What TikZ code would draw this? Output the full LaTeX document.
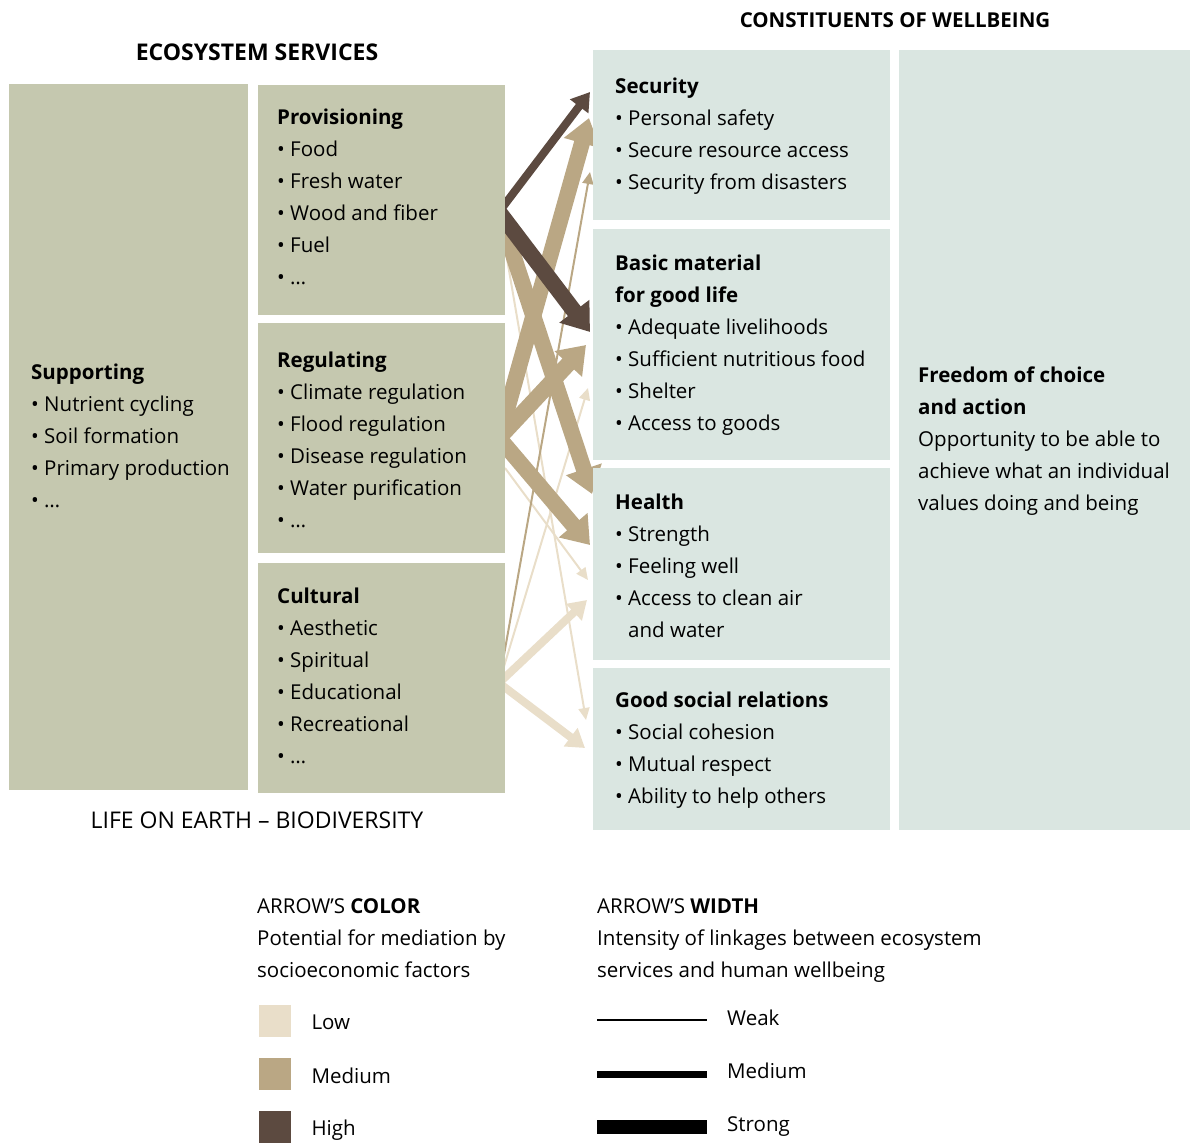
\documentclass[tikz,border=0pt]{standalone}
\usepackage{fontspec}
\setmainfont{Open Sans}
\usetikzlibrary{positioning,arrows.meta,calc}
\definecolor{servicecolor}{RGB}{197,200,175}
\definecolor{wellcolor}{RGB}{218,230,225}
\definecolor{lowcolor}{RGB}{233,222,201}
\definecolor{medcolor}{RGB}{186,167,132}
\definecolor{highcolor}{RGB}{92,74,64}
\pgfdeclarelayer{background}
\pgfsetlayers{background,main}

\begin{document}
\begin{tikzpicture}[
    x=1pt, y=-1pt,
    box/.style={rectangle, anchor=north west, inner sep=0pt, outer sep=0pt},
    service/.style={box, fill=servicecolor},
    wellbeing/.style={box, fill=wellcolor},
    boxtext/.style={anchor=north west, align=left, inner sep=0pt, font=\fontsize{20.5}{32}\selectfont},
    head/.style={inner sep=0pt, font=\fontsize{20.5}{24}\selectfont\bfseries},
    swatch/.style={rectangle, anchor=north west, inner sep=0pt, minimum size=32pt},
    keytext/.style={anchor=west, inner sep=0pt, font=\fontsize{20.5}{24}\selectfont},
    weak/.style={line width=2pt, -{Triangle[length=12pt,width=11pt]}},
    medium/.style={line width=8pt, -{Triangle[length=18pt,width=22pt]}},
    strong/.style={line width=16pt, -{Triangle[length=26pt,width=36pt]}}
]
\useasboundingbox (0,0) rectangle (1190,1142);

% Ecosystem services
\node[service, minimum width=239pt, minimum height=706pt] (supp) at (9,84) {};
\node[service, minimum width=247pt, minimum height=230pt] (prov) at (258,85) {};
\node[service, minimum width=247pt, minimum height=230pt] (reg) at (258,323) {};
\node[service, minimum width=247pt, minimum height=230pt] (cult) at (258,563) {};

% Constituents of wellbeing
\node[wellbeing, minimum width=297pt, minimum height=170pt] (sec) at (593,50) {};
\node[wellbeing, minimum width=297pt, minimum height=231pt] (basic) at (593,229) {};
\node[wellbeing, minimum width=297pt, minimum height=192pt] (health) at (593,468) {};
\node[wellbeing, minimum width=297pt, minimum height=162pt] (social) at (593,668) {};
\node[wellbeing, minimum width=291pt, minimum height=780pt] (free) at (899,50) {};

% Box texts
\node[boxtext] (supp-text) at ([shift={(22,280)}]supp.north west) {\textbf{Supporting}\\• Nutrient cycling\\• Soil formation\\• Primary production\\• …};
\node[boxtext] (prov-text) at ([shift={(19,24)}]prov.north west) {\textbf{Provisioning}\\• Food\\• Fresh water\\• Wood and fiber\\• Fuel\\• …};
\node[boxtext] (reg-text) at ([shift={(19,29)}]reg.north west) {\textbf{Regulating}\\• Climate regulation\\• Flood regulation\\• Disease regulation\\• Water purification\\• …};
\node[boxtext] (cult-text) at ([shift={(19,25)}]cult.north west) {\textbf{Cultural}\\• Aesthetic\\• Spiritual\\• Educational\\• Recreational\\• …};
\node[boxtext] (sec-text) at ([shift={(22,28)}]sec.north west) {\textbf{Security}\\• Personal safety\\• Secure resource access\\• Security from disasters};
\node[boxtext] (basic-text) at ([shift={(22,26)}]basic.north west) {\textbf{Basic material}\\\textbf{for good life}\\• Adequate livelihoods\\• Sufficient nutritious food\\• Shelter\\• Access to goods};
\node[boxtext] (health-text) at ([shift={(22,26)}]health.north west) {\textbf{Health}\\• Strength\\• Feeling well\\• Access to clean air\\\phantom{• }and water};
\node[boxtext] (social-text) at ([shift={(22,24)}]social.north west) {\textbf{Good social relations}\\• Social cohesion\\• Mutual respect\\• Ability to help others};
\node[boxtext] (free-text) at ([shift={(19,317)}]free.north west) {\textbf{Freedom of choice}\\\textbf{and action}\\Opportunity to be able to\\achieve what an individual\\values doing and being};

% Titles
\node[inner sep=0pt, font=\fontsize{23}{26}\selectfont\bfseries] (es-title) at (257,52) {ECOSYSTEM SERVICES};
\node[head] (cw-title) at (895,20) {CONSTITUENTS OF WELLBEING};
\node[inner sep=0pt, font=\fontsize{23}{26}\selectfont] (life) at (257,820) {LIFE ON EARTH – BIODIVERSITY};

% Arrow ends
\coordinate (prov-out) at ([shift={(-6,12)}]prov.east);
\coordinate (reg-out) at ([shift={(-6,0)}]reg.east);
\coordinate (reg-out2) at ([shift={(0,30)}]reg.east);
\coordinate (cult-out) at ([shift={(-6,5)}]cult.east);
\coordinate (sec-in1) at (590,92);
\coordinate (sec-in2) at (589,118);
\coordinate (sec-in3) at (590,172);
\coordinate (basic-in1) at (590,332);
\coordinate (basic-in2) at (586,345);
\coordinate (basic-in3) at (588,388);
\coordinate (health-in1) at (592,494);
\coordinate (health-in2) at (590,545);
\coordinate (health-in3) at (588,580);
\coordinate (health-in4) at (587,600);
\coordinate (social-in1) at (586,720);
\coordinate (social-in2) at (585,748);

% Linkages
\begin{pgfonlayer}{background}
\draw[weak, lowcolor] (prov-out) -- (social-in1);
\draw[weak, lowcolor] (reg-out2) -- (health-in3);
\draw[weak, lowcolor] (cult-out) -- (basic-in3);
\draw[medium, lowcolor] (cult-out) -- (health-in4);
\draw[medium, lowcolor] (cult-out) -- (social-in2);
\draw[weak, medcolor] (cult-out) -- (sec-in3);
\draw[strong, medcolor] (prov-out) -- (health-in1);
\draw[strong, medcolor] (reg-out) -- (sec-in2);
\draw[strong, medcolor] (reg-out) -- (basic-in2);
\draw[strong, medcolor] (reg-out) -- (health-in2);
\draw[medium, highcolor] (prov-out) -- (sec-in1);
\draw[strong, highcolor] (prov-out) -- (basic-in1);
\end{pgfonlayer}

% Legend: colour
\node[anchor=north west, align=left, inner sep=0pt, font=\fontsize{20.5}{32}\selectfont] (color-key) at (257,898) {ARROW’S \textbf{COLOR}\\Potential for mediation by\\socioeconomic factors};
\node[swatch, fill=lowcolor] (low) at (259,1005) {};
\node[swatch, fill=medcolor] (med) at (259,1058) {};
\node[swatch, fill=highcolor] (high) at (259,1111) {};
\node[keytext, right=20pt of low, yshift=-1pt] (low-label) {Low};
\node[keytext, right=20pt of med, yshift=-2pt] (med-label) {Medium};
\node[keytext, right=20pt of high, yshift=-3pt] (high-label) {High};

% Legend: width
\node[anchor=north west, align=left, inner sep=0pt, font=\fontsize{20.5}{32}\selectfont] (width-key) at (597,898) {ARROW’S \textbf{WIDTH}\\Intensity of linkages between ecosystem\\services and human wellbeing};
\coordinate (weak-a) at (597,1020);
\coordinate (med-a) at (597,1074);
\coordinate (strong-a) at (597,1127);
\draw[line width=2pt] (weak-a) -- ++(110,0);
\draw[line width=7pt] (med-a) -- ++(110,0);
\draw[line width=14pt] (strong-a) -- ++(110,0);
\node[keytext] (weak-label) at (727,1018) {Weak};
\node[keytext] (medium-label) at (727,1071) {Medium};
\node[keytext] (strong-label) at (727,1127) {Strong};

\end{tikzpicture}
\end{document}
